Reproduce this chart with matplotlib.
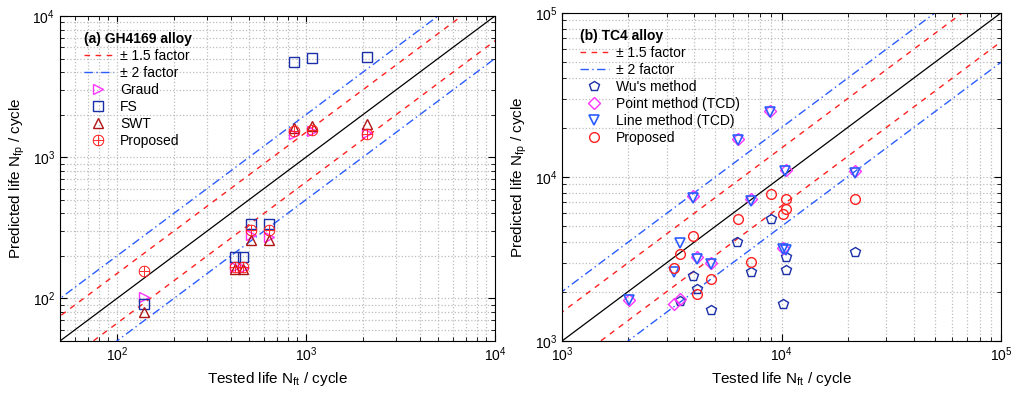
import numpy as np
import matplotlib
matplotlib.use("Agg")
import matplotlib.pyplot as plt

plt.rcParams['font.family'] = ['Liberation Sans', 'DejaVu Sans']
plt.rcParams['mathtext.fontset'] = 'custom'
plt.rcParams['mathtext.rm'] = 'Liberation Sans'
plt.rcParams['mathtext.it'] = 'Liberation Sans:italic'

# (a) GH4169 alloy
gh_graud_x = [139, 865, 1072, 2094, 422, 467, 511, 640]
gh_graud_y = [102, 1472, 1537, 1490, 166, 165, 280, 272]
gh_fs_x = [139, 865, 1072, 2094, 422, 467, 511, 640]
gh_fs_y = [91, 4720, 5060, 5140, 196, 196, 339, 339]
gh_swt_x = [139, 865, 1072, 2094, 422, 467, 511, 640]
gh_swt_y = [80, 1600, 1660, 1714, 163, 163, 258, 258]
gh_prop_x = [139, 865, 1072, 2094, 422, 467, 511, 640]
gh_prop_y = [156, 1528, 1570, 1455, 167, 167, 303, 303]

# (b) TC4 alloy
tc_wu_x = [3436, 3970, 4110, 4790, 6290, 7230, 8910, 10190, 10500, 10500, 21500]
tc_wu_y = [1760, 2490, 2064, 1546, 4030, 2625, 5520, 1682, 3240, 2690, 3510]
tc_point_x = [2010, 3245, 3436, 3970, 4110, 4790, 6330, 7230, 8860, 10190, 10480, 21500]
tc_point_y = [1790, 1690, 1800, 7600, 3250, 2990, 17000, 7300, 25200, 3700, 10950, 10800]
tc_line_x = [2010, 3245, 3436, 3970, 4110, 4790, 6330, 7230, 8860, 10190, 10500, 10420, 21500]
tc_line_y = [1780, 2650, 3940, 7410, 3160, 2940, 16800, 7170, 24900, 3620, 3600, 10930, 10620]
tc_prop_x = [3245, 3436, 3970, 4110, 4790, 6330, 7230, 8910, 10190, 10500, 10500, 21500]
tc_prop_y = [2800, 3380, 4390, 1930, 2377, 5570, 3050, 7830, 5920, 6360, 7310, 7340]

RED = '#ff2020'
BLUE = '#2a5cff'
DBLUE = '#1a2fa8'
MAG = '#ff33ff'
DRED = '#b01515'


def band_lines(ax, lo, hi):
    xs = np.array([lo / 10, hi * 10])
    ax.plot(xs, xs, color='black', lw=0.9, zorder=2)
    ax.plot(xs, xs * 1.5, color=RED, lw=1.0, ls=(0, (4, 4)), label='± 1.5 factor', zorder=2)
    ax.plot(xs, xs / 1.5, color=RED, lw=1.0, ls=(0, (4, 4)), zorder=2)
    ax.plot(xs, xs * 2, color=BLUE, lw=1.0, ls=(0, (6, 2.5, 1, 2.5)), label='± 2 factor', zorder=2)
    ax.plot(xs, xs / 2, color=BLUE, lw=1.0, ls=(0, (6, 2.5, 1, 2.5)), zorder=2)


def style_axes(ax, lo, hi):
    ax.set_xscale('log')
    ax.set_yscale('log')
    ax.set_xlim(lo, hi)
    ax.set_ylim(lo, hi)
    ax.grid(True, which='both', color='#bdbdbd', ls=':', lw=0.9, zorder=0)
    ax.tick_params(which='both', direction='in', top=True, right=True, labelsize=10)
    ax.tick_params(which='major', length=5)
    ax.tick_params(which='minor', length=3)
    ax.set_xlabel(r'Tested life N$_{\rm ft}$ / cycle', fontsize=11)
    ax.set_ylabel(r'Predicted life N$_{\rm fp}$ / cycle', fontsize=11)


def add_legend(ax, title, xoff):
    ax.legend(loc='upper left', bbox_to_anchor=(xoff, 0.994), frameon=False, fontsize=10,
              title=title, title_fontproperties={'weight': 'bold', 'size': 10}, alignment='left',
              handlelength=2.1, handletextpad=0.5, labelspacing=0.22, borderaxespad=0.6)


fig = plt.figure(figsize=(10.13, 3.93), dpi=100)
ax1 = fig.add_axes([0.0592, 0.1323, 0.4294, 0.8270])
ax2 = fig.add_axes([0.5548, 0.1323, 0.4334, 0.8350])

# panel (a)
band_lines(ax1, 50, 1e4)
ms = 6.5
ax1.plot(gh_graud_x, gh_graud_y, ls='none', marker='>', ms=ms, mfc='none', mec=MAG, mew=1.0, label='Graud', zorder=3)
ax1.plot(gh_fs_x, gh_fs_y, ls='none', marker='s', ms=ms, mfc='none', mec=DBLUE, mew=1.0, label='FS', zorder=3)
ax1.plot(gh_swt_x, gh_swt_y, ls='none', marker='^', ms=ms + 0.5, mfc='none', mec=DRED, mew=1.0, label='SWT', zorder=3)
ax1.plot(gh_prop_x, gh_prop_y, ls='none', marker=r'$\oplus$', ms=ms + 1.5, color=RED, mew=0.3, label='Proposed', zorder=4)
style_axes(ax1, 50, 1e4)
add_legend(ax1, '(a) GH4169 alloy', 0.023)

# panel (b)
band_lines(ax2, 1e3, 1e5)
ax2.plot(tc_wu_x, tc_wu_y, ls='none', marker='p', ms=ms + 0.5, mfc='none', mec=DBLUE, mew=1.0, label="Wu's method", zorder=3)
ax2.plot(tc_point_x, tc_point_y, ls='none', marker='D', ms=ms - 0.5, mfc='none', mec=MAG, mew=1.0, label='Point method (TCD)', zorder=3)
ax2.plot(tc_line_x, tc_line_y, ls='none', marker='v', ms=ms + 0.5, mfc='none', mec=BLUE, mew=1.2, label='Line method (TCD)', zorder=3)
ax2.plot(tc_prop_x, tc_prop_y, ls='none', marker='o', ms=ms + 0.5, mfc='none', mec=RED, mew=1.0, label='Proposed', zorder=3)
style_axes(ax2, 1e3, 1e5)
add_legend(ax2, '(b) TC4 alloy', 0.009)

fig.savefig('out.png', dpi=100)
